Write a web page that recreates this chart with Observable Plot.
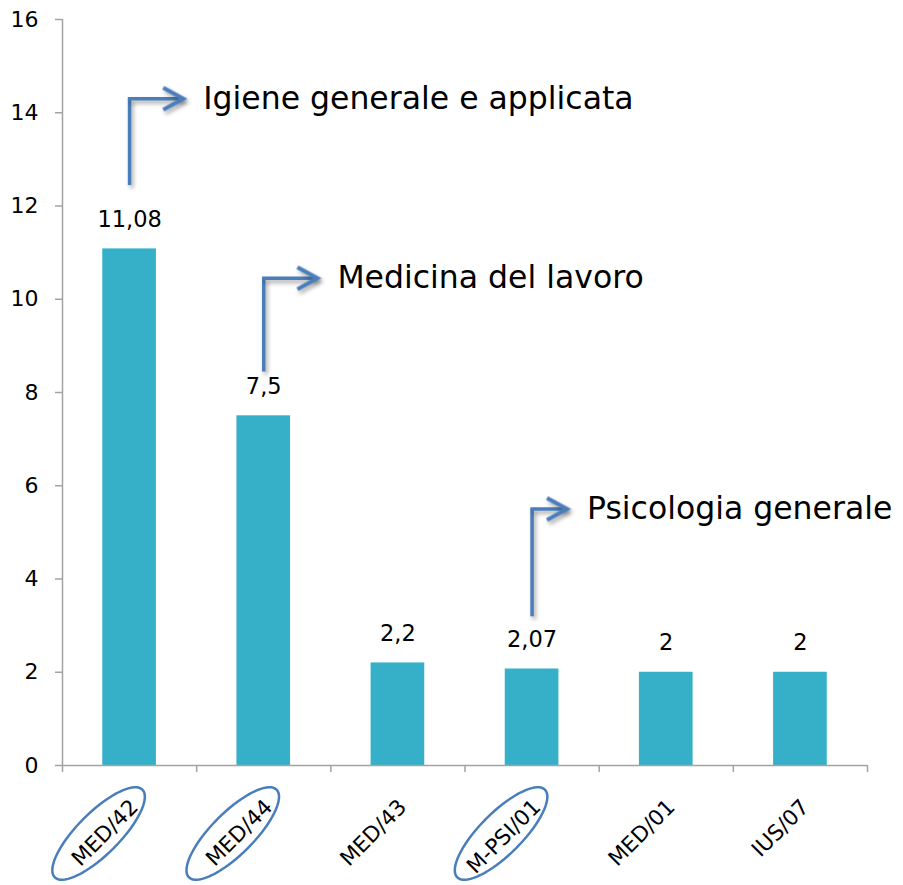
<!DOCTYPE html>
<html><head><meta charset="utf-8">
<script src="https://cdn.jsdelivr.net/npm/d3@7"></script>
<script src="https://cdn.jsdelivr.net/npm/@observablehq/plot@0.6"></script>
<style>
html,body{margin:0;padding:0;background:#fff;}
#chart svg g[aria-label="link"] {filter: drop-shadow(2px 3px 2px rgba(0,0,0,0.35));}
</style></head><body><div id="chart"></div>
<script>
const categories = ["MED/42","MED/44","MED/43","M-PSI/01","MED/01","IUS/07"];
const values = [11.08, 7.5, 2.2, 2.07, 2, 2];
const valueLabels = ["11,08","7,5","2,2","2,07","2","2"];
const yTicks = [0,2,4,6,8,10,12,14,16];
const highlighted = ["MED/42","MED/44","M-PSI/01"];
const annotationLabels = ["Igiene generale e applicata","Medicina del lavoro","Psicologia generale"];
const annotationCategories = ["MED/42","MED/44","M-PSI/01"];
const annotationBase = [12.45, 8.45, 3.2];
const annotationLevel = [14.3, 10.45, 5.5];
const annotationReach = [0.4, 0.4, 0.26];

const rows = categories.map((c, i) => ({i, category: c, value: values[i], label: valueLabels[i]}));
const boundaries = categories.map((c, i) => i - 0.5).concat(categories.length - 0.5);
const circled = rows.filter(d => highlighted.includes(d.category));
const annots = annotationLabels.map((t, k) => ({
  text: t,
  i: categories.indexOf(annotationCategories[k]),
  base: annotationBase[k],
  level: annotationLevel[k],
  reach: annotationReach[k]
}));

const gray = "#a3a3a3";
const blue = "#4a7ebb";
const barColor = "#36b0c9";

const ellipse = {
  draw(context) {
    const a = 62, b = 21, th = -Math.PI / 4;
    const n = 72;
    for (let k = 0; k <= n; k++) {
      const t = 2 * Math.PI * k / n;
      const px = a * Math.cos(t) * Math.cos(th) - b * Math.sin(t) * Math.sin(th);
      const py = a * Math.cos(t) * Math.sin(th) + b * Math.sin(t) * Math.cos(th);
      if (k === 0) context.moveTo(px, py); else context.lineTo(px, py);
    }
    context.closePath();
  }
};
const chevron = {
  draw(context) {
    context.moveTo(-20, -11);
    context.lineTo(0, 0);
    context.lineTo(-20, 11);
  }
};

const chart = Plot.plot({
  width: 903,
  height: 885,
  marginLeft: 62,
  marginRight: 36,
  marginTop: 19,
  marginBottom: 120,
  style: {fontFamily: "'DejaVu Sans', sans-serif", background: "white", overflow: "visible"},
  x: {type: "linear", domain: [-0.5, categories.length - 0.5], axis: null},
  y: {domain: [0, 16], axis: null},
  marks: [
    Plot.rectY(rows, {x1: d => d.i - 0.2, x2: d => d.i + 0.2, y1: 0, y2: "value", fill: barColor}),
    Plot.ruleX([-0.5], {stroke: gray, strokeWidth: 1.5}),
    Plot.ruleY([0], {stroke: gray, strokeWidth: 1.5}),
    Plot.axisY(yTicks, {tickSize: 7, tickFormat: () => "", color: gray, strokeWidth: 1.5, label: null}),
    Plot.axisY(yTicks, {tickSize: 0, tickPadding: 24, fontSize: 22, color: "black", label: null}),
    Plot.axisX(boundaries, {tickSize: 7, tickFormat: () => "", color: gray, strokeWidth: 1.5, label: null}),
    Plot.text(rows, {x: "i", y: 0, text: "category", rotate: -45, textAnchor: "end", dx: 5, dy: 38, fontSize: 21.5, fill: "black"}),
    Plot.text(rows, {x: "i", y: "value", text: "label", dy: -29, fontSize: 22.5, fill: "black"}),
    Plot.dot(circled, {x: "i", y: 0, dx: -31, dy: 68, r: 10, symbol: ellipse, stroke: blue, strokeWidth: 2.5, fill: "none"}),
    Plot.link(annots, {x1: "i", x2: "i", y1: "base", y2: "level", stroke: blue, strokeWidth: 3.5, strokeLinecap: "butt"}),
    Plot.link(annots, {x1: d => d.i - 0.013, x2: d => d.i + d.reach, y1: "level", y2: "level", stroke: blue, strokeWidth: 3.5, strokeLinecap: "butt"}),
    Plot.dot(annots, {x: d => d.i + d.reach, y: "level", r: 10, symbol: chevron, stroke: blue, strokeWidth: 4, fill: "none", strokeLinejoin: "miter"}),
    Plot.text(annots, {x: d => d.i + d.reach, y: "level", text: "text", textAnchor: "start", dx: 20, fontSize: 31.5, fill: "black"})
  ]
});
const dotGroups = chart.querySelectorAll('g[aria-label="dot"]');
if (dotGroups.length > 1) dotGroups[dotGroups.length - 1].style.filter = "drop-shadow(2px 3px 2px rgba(0,0,0,0.35))";
document.getElementById("chart").appendChild(chart);
</script>
</body></html>
